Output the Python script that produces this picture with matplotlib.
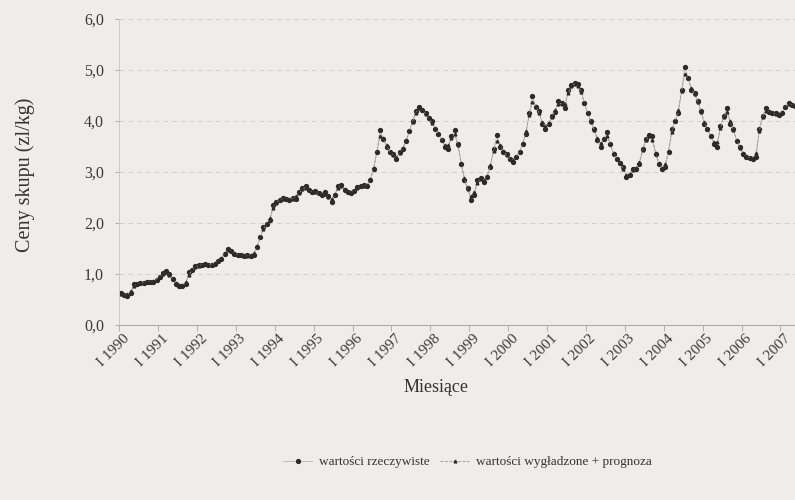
import numpy as np
import matplotlib
matplotlib.use("Agg")
import matplotlib.pyplot as plt
from matplotlib.transforms import ScaledTranslation

# Monthly purchase prices (zl/kg), January 1990 onwards.
actual = [
    0.62, 0.58, 0.57, 0.63, 0.80, 0.80, 0.82, 0.83, 0.85, 0.85, 0.84, 0.88,  # 1990
    0.95, 1.02, 1.05, 1.00, 0.90, 0.80, 0.77, 0.76, 0.80, 1.03, 1.08, 1.15,  # 1991
    1.17, 1.18, 1.20, 1.18, 1.17, 1.20, 1.25, 1.30, 1.40, 1.50, 1.45, 1.40,  # 1992
    1.38, 1.37, 1.36, 1.37, 1.36, 1.38, 1.52, 1.72, 1.92, 1.98, 2.05, 2.35,  # 1993
    2.42, 2.45, 2.50, 2.48, 2.45, 2.50, 2.48, 2.60, 2.68, 2.72, 2.65, 2.60,  # 1994
    2.62, 2.58, 2.55, 2.60, 2.52, 2.42, 2.55, 2.72, 2.75, 2.65, 2.60, 2.58,  # 1995
    2.62, 2.70, 2.72, 2.75, 2.72, 2.85, 3.05, 3.40, 3.82, 3.65, 3.50, 3.40,  # 1996
    3.35, 3.25, 3.40, 3.45, 3.60, 3.80, 4.00, 4.20, 4.28, 4.22, 4.15, 4.05,  # 1997
    4.00, 3.85, 3.75, 3.62, 3.50, 3.45, 3.70, 3.82, 3.55, 3.15, 2.85, 2.68,  # 1998
    2.45, 2.55, 2.85, 2.88, 2.80, 2.90, 3.10, 3.45, 3.72, 3.50, 3.40, 3.35,  # 1999
    3.25, 3.20, 3.30, 3.40, 3.55, 3.75, 4.15, 4.50, 4.28, 4.20, 3.95, 3.85,  # 2000
    3.95, 4.10, 4.18, 4.40, 4.35, 4.25, 4.60, 4.70, 4.75, 4.72, 4.60, 4.35,  # 2001
    4.15, 4.00, 3.85, 3.62, 3.50, 3.65, 3.78, 3.55, 3.35, 3.25, 3.18, 3.10,  # 2002
    2.90, 2.95, 3.05, 3.05, 3.15, 3.45, 3.65, 3.72, 3.70, 3.35, 3.15, 3.05,  # 2003
    3.10, 3.40, 3.85, 4.00, 4.15, 4.60, 5.05, 4.85, 4.60, 4.55, 4.40, 4.20,  # 2004
    3.95, 3.85, 3.70, 3.55, 3.50, 3.90, 4.10, 4.25, 3.95, 3.85, 3.60, 3.50,  # 2005
    3.35, 3.30, 3.28, 3.25, 3.30, 3.85, 4.10, 4.25, 4.18, 4.15, 4.15, 4.12,  # 2006
    4.15, 4.28, 4.35, 4.32, 4.30,                                            # 2007
]

smoothed = [
    0.60, 0.59, 0.60, 0.66, 0.76, 0.80, 0.82, 0.83, 0.84, 0.85, 0.86, 0.89,
    0.94, 1.00, 1.03, 0.98, 0.90, 0.82, 0.78, 0.78, 0.84, 0.98, 1.08, 1.13,
    1.16, 1.18, 1.19, 1.18, 1.18, 1.21, 1.25, 1.32, 1.41, 1.47, 1.45, 1.41,
    1.38, 1.37, 1.37, 1.36, 1.37, 1.41, 1.54, 1.72, 1.88, 1.98, 2.10, 2.30,
    2.40, 2.45, 2.48, 2.47, 2.47, 2.48, 2.52, 2.59, 2.67, 2.69, 2.66, 2.61,
    2.60, 2.58, 2.57, 2.56, 2.51, 2.47, 2.56, 2.69, 2.72, 2.66, 2.61, 2.60,
    2.63, 2.68, 2.72, 2.73, 2.75, 2.87, 3.08, 3.40, 3.70, 3.66, 3.52, 3.40,
    3.33, 3.30, 3.37, 3.48, 3.62, 3.80, 3.99, 4.16, 4.25, 4.22, 4.14, 4.05,
    3.97, 3.86, 3.74, 3.62, 3.52, 3.52, 3.66, 3.74, 3.52, 3.18, 2.88, 2.66,
    2.52, 2.60, 2.78, 2.86, 2.85, 2.93, 3.13, 3.42, 3.60, 3.52, 3.42, 3.33,
    3.26, 3.24, 3.30, 3.40, 3.56, 3.80, 4.12, 4.38, 4.30, 4.16, 3.98, 3.90,
    3.96, 4.08, 4.22, 4.34, 4.34, 4.33, 4.54, 4.68, 4.73, 4.68, 4.56, 4.36,
    4.16, 3.98, 3.83, 3.66, 3.56, 3.64, 3.70, 3.54, 3.37, 3.26, 3.17, 3.06,
    2.95, 2.97, 3.03, 3.08, 3.20, 3.43, 3.62, 3.70, 3.62, 3.38, 3.18, 3.08,
    3.15, 3.42, 3.78, 4.00, 4.22, 4.58, 4.92, 4.84, 4.65, 4.52, 4.38, 4.18,
    3.98, 3.84, 3.70, 3.58, 3.58, 3.86, 4.08, 4.18, 4.00, 3.82, 3.63, 3.48,
    3.37, 3.31, 3.28, 3.27, 3.38, 3.80, 4.08, 4.20, 4.18, 4.16, 4.14, 4.13,
    4.18, 4.27, 4.33, 4.32, 4.31,
]

years = list(range(1990, 2008))
year_labels = ["I %d" % y for y in years]
y_ticks = [0, 1, 2, 3, 4, 5, 6]
y_labels = ["%d,0" % v for v in y_ticks]

bg = "#efedec"
ink = "#2b2b2b"

plt.rcParams["font.family"] = ["Liberation Serif", "DejaVu Serif"]

fig = plt.figure(figsize=(7.95, 5.0), dpi=100, facecolor=bg)
ax = fig.add_axes([0.150, 0.350, 0.850, 0.612], facecolor=bg)

months = np.arange(len(actual))
months_s = np.arange(len(smoothed))

ax.plot(months, actual, "-", color="#b8b6b5", lw=0.6,
        marker="o", ms=2.8, mfc=ink, mec=ink, label="wartości rzeczywiste")
ax.plot(months_s, smoothed, "--", color="#9a9898", lw=0.6,
        marker="^", ms=2.0, mfc=ink, mec=ink,
        label="wartości wygładzone + prognoza")

ax.set_yticks(y_ticks)
ax.set_yticklabels(y_labels, fontsize=11.5, color="#3a3a3a")

# tick marks at year boundaries; the labels are drawn a few pixels to the
# left of their tick so the last one stays inside the picture
year_pos = [12 * i - 0.5 for i in range(len(years))]
ax.set_xticks(year_pos)
ax.set_xticklabels([])
label_tr = ax.get_xaxis_transform() + ScaledTranslation(-6 / 100, -7 / 100,
                                                        fig.dpi_scale_trans)
for pos, lab in zip(year_pos, year_labels):
    ax.text(pos, 0, lab, transform=label_tr, rotation=45, ha="center",
            va="top", fontsize=11, color="#3a3a3a", clip_on=False)

ax.set_xlim(-0.5, 208.0)
ax.set_ylim(0, 6)

ax.tick_params(axis="x", length=4, width=0.6, color="#a8a6a5")
ax.tick_params(axis="y", length=3, width=0.6, color="#a8a6a5", pad=8)

ax.grid(axis="y", linestyle=(0, (5, 4)), color="#d2d0cf", lw=0.7)
ax.set_axisbelow(True)
for side in ["top", "right"]:
    ax.spines[side].set_visible(False)
ax.spines["left"].set_color("#cccac9")
ax.spines["left"].set_linewidth(0.7)
ax.spines["bottom"].set_color("#aeacab")
ax.spines["bottom"].set_linewidth(0.8)

ax.set_ylabel("Ceny skupu (zl/kg)", fontsize=14.5, color="#333333")
ax.yaxis.set_label_coords(-0.125, 0.49)
fig.text(0.549, 0.226, "Miesiące", fontsize=13, color="#333333",
         ha="center", va="center")

fig.legend(loc="center", bbox_to_anchor=(0.588, 0.076), ncol=2,
           frameon=False, fontsize=9.5, handlelength=2.2, columnspacing=0.8,
           handletextpad=0.5, numpoints=1, labelcolor="#333333")

fig.savefig("out.png", dpi=100, facecolor=bg)
